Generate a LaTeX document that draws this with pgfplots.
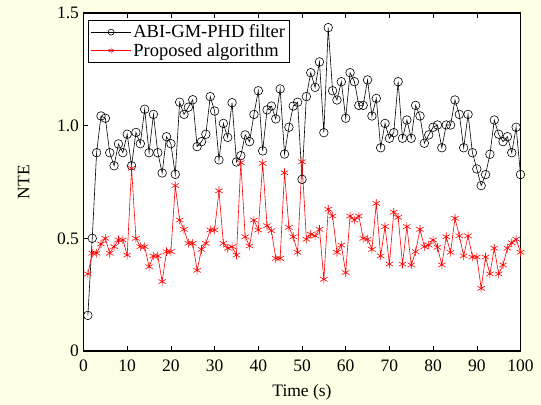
\documentclass[border=0pt]{standalone}
\usepackage{pgfplots}
\pgfplotsset{compat=1.18}
\usepackage{fontspec}
\setmainfont{Liberation Serif}
\definecolor{bgy}{RGB}{255,255,230}
\begin{document}
\begin{tikzpicture}
\fill[bgy] (0bp,0bp) rectangle (541bp,405bp);
\begin{axis}[
  at={(83.5bp,54bp)}, anchor=south west,
  width=437bp, height=338bp, scale only axis,
  font=\fontsize{17.5bp}{20bp}\selectfont,
  /pgf/number format/assume math mode=true,
  axis background/.style={fill=white},
  axis line style={line width=1.3pt},
  xmin=0, xmax=100, ymin=0, ymax=1.5,
  xtick={0,10,...,100},
  ytick={0,0.5,1,1.5},
  yticklabels={0,0.5,1.0,1.5},
  tick align=inside,
  xtick pos=both, ytick pos=left,
  major tick length=5bp,
  tick style={black, line width=0.6pt},
  xticklabel style={yshift=-5bp},
  yticklabel style={xshift=-1bp},
  xlabel={Time (s)}, ylabel={NTE},
  xlabel style={at={(axis description cs:0.5,0)}, anchor=center, yshift=-41bp},
  ylabel style={at={(axis description cs:-0.137,0.5)}, anchor=center},
  legend style={at={(axis description cs:0.0103,0.979)}, anchor=north west, draw=black, line width=0.6pt,
    font=\fontsize{18.5bp}{21bp}\selectfont, inner sep=2.5pt, row sep=0pt},
  legend cell align=left,
  legend image code/.code={\draw[#1, mark=none] (0bp,0bp) -- (40bp,0bp);
    \draw[#1, mark size=3bp] plot coordinates {(20bp,0bp)};},
]
\addplot[black, line width=0.6pt, mark=o, mark size=4.3bp, mark options={line width=0.6pt}] coordinates {
(1,0.158)(2,0.50)(3,0.88)(4,1.043)(5,1.033)(6,0.88)(7,0.822)(8,0.919)(9,0.88)(10,0.962)
(11,0.822)(12,0.97)(13,0.92)(14,1.073)(15,0.88)(16,1.05)(17,0.88)(18,0.79)(19,0.951)(20,0.92)
(21,0.784)(22,1.104)(23,1.05)(24,1.082)(25,1.115)(26,0.907)(27,0.929)(28,0.962)(29,1.129)(30,1.065)
(31,0.848)(32,1.01)(33,0.948)(34,1.102)(35,0.839)(36,0.867)(37,0.959)(38,0.929)(39,1.05)(40,1.155)
(41,0.888)(42,1.07)(43,1.087)(44,1.03)(45,1.163)(46,0.874)(47,0.993)(48,1.087)(49,1.104)(50,0.762)
(51,1.129)(52,1.235)(53,1.17)(54,1.283)(55,0.969)(56,1.435)(57,1.155)(58,1.114)(59,1.195)(60,1.033)
(61,1.235)(62,1.195)(63,1.09)(64,1.09)(65,1.203)(66,1.043)(67,1.121)(68,0.902)(69,1.01)(70,0.944)
(71,0.969)(72,1.195)(73,0.944)(74,1.025)(75,0.944)(76,1.09)(77,1.043)(78,0.922)(79,0.959)(80,0.993)
(81,1.003)(82,0.902)(83,1.003)(84,1.003)(85,1.114)(86,1.05)(87,0.902)(88,1.05)(89,0.88)(90,0.808)
(91,0.734)(92,0.783)(93,0.873)(94,1.025)(95,0.962)(96,0.929)(97,0.951)(98,0.88)(99,0.993)(100,0.783)
};
\addlegendentry{ABI-GM-PHD filter}
\addplot[red, line width=0.6pt, mark=asterisk, mark size=4.3bp, mark options={line width=0.6pt}] coordinates {
(1,0.342)(2,0.434)(3,0.434)(4,0.475)(5,0.50)(6,0.434)(7,0.463)(8,0.493)(9,0.493)(10,0.426)
(11,0.811)(12,0.50)(13,0.463)(14,0.463)(15,0.374)(16,0.422)(17,0.422)(18,0.308)(19,0.441)(20,0.441)
(21,0.734)(22,0.581)(23,0.54)(24,0.478)(25,0.478)(26,0.358)(27,0.451)(28,0.478)(29,0.537)(30,0.537)
(31,0.711)(32,0.478)(33,0.456)(34,0.463)(35,0.426)(36,0.836)(37,0.507)(38,0.466)(39,0.581)(40,0.537)
(41,0.833)(42,0.556)(43,0.534)(44,0.411)(45,0.411)(46,0.791)(47,0.549)(48,0.507)(49,0.438)(50,0.84)
(51,0.496)(52,0.518)(53,0.511)(54,0.54)(55,0.318)(56,0.629)(57,0.599)(58,0.438)(59,0.47)(60,0.348)
(61,0.599)(62,0.581)(63,0.599)(64,0.50)(65,0.496)(66,0.451)(67,0.655)(68,0.422)(69,0.552)(70,0.386)
(71,0.616)(72,0.593)(73,0.386)(74,0.552)(75,0.382)(76,0.441)(77,0.54)(78,0.463)(79,0.47)(80,0.493)
(81,0.46)(82,0.382)(83,0.507)(84,0.438)(85,0.589)(86,0.511)(87,0.422)(88,0.511)(89,0.417)(90,0.417)
(91,0.278)(92,0.417)(93,0.342)(94,0.456)(95,0.342)(96,0.382)(97,0.456)(98,0.48)(99,0.496)(100,0.438)
};
\addlegendentry{Proposed algorithm}
\end{axis}
\end{tikzpicture}
\end{document}
